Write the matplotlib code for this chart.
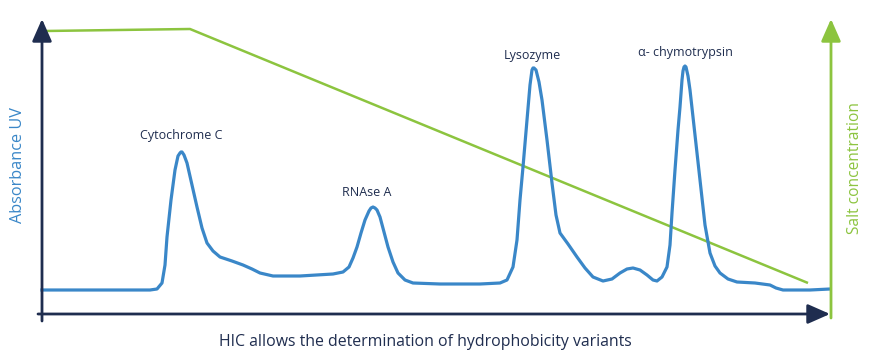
import matplotlib.pyplot as plt

plt.rcParams["font.family"] = ["Open Sans", "DejaVu Sans"]

NAVY = "#1f2d4f"
BLUE = "#3a87c8"
GREEN = "#8cc43f"

# chromatogram trace (elution time, UV absorbance), axis corner at (0, 0)
uv_time = [0, 58, 108, 115, 120, 123, 125, 129, 133, 136, 138, 139, 140, 142, 145, 150, 155,
           160, 165, 171, 178, 190, 201, 210, 218, 231, 258, 291, 301, 307, 311, 315,
           319, 323, 327, 329, 331, 333, 335, 338, 342, 346, 351, 356, 363, 371, 398, 438, 458,
           465, 471, 475, 478, 481, 485, 488, 490, 491, 492, 494, 497, 500, 505, 510, 514, 518,
           526, 535, 543, 551, 561, 570, 578, 585, 591, 598, 605, 611, 615, 620, 625,
           628, 630, 633, 636, 638, 640, 641, 642, 643, 644, 646, 648, 653, 658, 663, 668, 673,
           678, 686, 695, 713, 728, 734, 741, 768, 788]
uv_signal = [27, 27, 27, 28, 34, 52, 80, 117, 147, 161, 164, 165, 165, 162, 154, 132, 110,
             89, 74, 66, 60, 56, 52, 48, 44, 41, 41, 43, 45, 50, 59, 70,
             84, 97, 106, 109, 110, 109, 107, 100, 85, 70, 55, 44, 37, 34, 33, 33, 34,
             37, 50, 77, 117, 150, 197, 232, 247, 249, 249, 247, 235, 217, 177, 134, 102, 84,
             73, 60, 49, 40, 36, 38, 44, 48, 49, 47, 42, 37, 36, 40, 50,
             72, 104, 147, 187, 210, 237, 246, 250, 251, 250, 241, 227, 182, 137, 92, 64, 51,
             44, 38, 35, 34, 32, 29, 27, 27, 28]

# salt gradient (elution time, salt concentration)
salt_time = [3, 148, 766]
salt_level = [286, 288, 34]

peak_names = ["Cytochrome C", "RNAse A", "Lysozyme", "\u03b1- chymotrypsin"]
peak_time = [139, 325, 490, 643]
peak_label_height = [178, 121, 258, 261]

fig = plt.figure(figsize=(8.79, 3.6), dpi=100)
ax = fig.add_axes([0, 0, 1, 1])
ax.set_xlim(-42, 837)
ax.set_ylim(-43, 317)
ax.axis("off")

# axes drawn as arrows
arrow = dict(arrowstyle="-|>,head_length=0.68,head_width=0.3", mutation_scale=20,
             shrinkA=0, shrinkB=0, lw=2)
ax.annotate("", xy=(0, 298), xytext=(0, -4), arrowprops=dict(color=NAVY, **arrow))
ax.annotate("", xy=(788, 3), xytext=(-4, 3), arrowprops=dict(color=NAVY, **arrow))
ax.annotate("", xy=(789, 298), xytext=(789, -1), arrowprops=dict(color=GREEN, **arrow))

ax.plot(salt_time, salt_level, color=GREEN, lw=1.8, solid_capstyle="butt")
ax.plot(uv_time, uv_signal, color=BLUE, lw=2.3, solid_joinstyle="round")

for name, t, h in zip(peak_names, peak_time, peak_label_height):
    ax.text(t, h, name, ha="center", va="baseline", fontsize=9, color=NAVY)

ax.text(-24, 152, "Absorbance UV", rotation=90, ha="center", va="center",
        fontsize=11.7, color=BLUE)
ax.text(813, 149, "Salt concentration", rotation=90, ha="center", va="center",
        fontsize=11.2, color=GREEN)
ax.text(383, -25, "HIC allows the determination of hydrophobicity variants",
        ha="center", va="center", fontsize=11.4, color=NAVY)

fig.savefig("out.png", dpi=100)
